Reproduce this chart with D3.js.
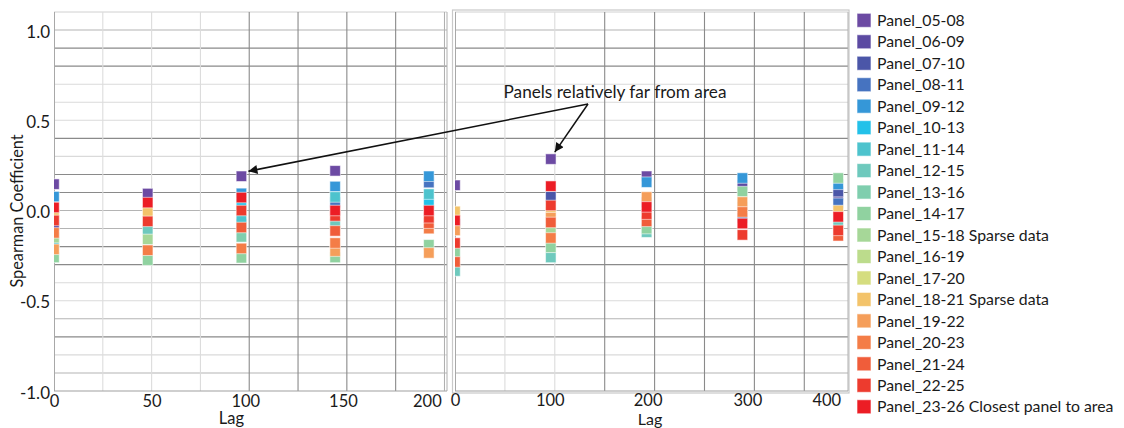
<!DOCTYPE html>
<html><head><meta charset="utf-8">
<script src="https://cdn.jsdelivr.net/npm/d3@7"></script>
<style>
html,body{margin:0;padding:0;background:#fff;}
svg text{font-family:Lato,"Noto Sans",sans-serif;fill:#1a1a1a;}
</style></head>
<body><svg id="c" width="1124" height="428"></svg>
<script>
// ---------------- DATA ----------------
const seriesNames = ["Panel_05-08","Panel_06-09","Panel_07-10","Panel_08-11","Panel_09-12","Panel_10-13",
  "Panel_11-14","Panel_12-15","Panel_13-16","Panel_14-17","Panel_15-18","Panel_16-19","Panel_17-20",
  "Panel_18-21","Panel_19-22","Panel_20-23","Panel_21-24","Panel_22-25","Panel_23-26"];
const seriesNotes = ["","","","","","","","","","","Sparse data","","","Sparse data","","","","","Closest panel to area"];
const seriesColors = ["#6c4aa3","#5c4aa2","#4b56a8","#4673c0","#3597d8","#23c1e9","#4dc3cd","#6ec9bd",
  "#7fceae","#90d2a0","#a6d798","#bcdc8c","#d5dd7f","#f3c36a","#f59e5a","#f47d47","#f05d3a","#ed3b2e","#ec1d25"];

// left panel lags and right panel lags
const lagsLeft = [0, 48, 96, 144, 192];
const lagsRight = [0, 96, 192, 288, 384];

// Spearman coefficient per series (rows follow seriesNames), null = no point
const valuesLeft = [
  [0.146, 0.094, 0.19, 0.22, null],      // 05-08
  [-0.08, null, -0.075, null, null],     // 06-09
  [null, null, null, null, null],        // 07-10
  [null, null, null, 0.045, 0.155],      // 08-11
  [0.077, null, 0.095, 0.133, 0.19],     // 09-12
  [null, null, 0.035, null, 0.04],       // 10-13
  [-0.175, null, -0.05, 0.075, 0.091],   // 11-14
  [null, -0.105, null, -0.075, null],    // 12-15
  [null, null, -0.146, null, null],      // 13-16
  [-0.26, -0.275, -0.262, -0.26, -0.19], // 14-17
  [-0.15, -0.16, null, null, null],      // 15-18
  [null, null, null, null, null],        // 16-19
  [null, null, null, null, null],        // 17-20
  [-0.02, -0.005, null, null, null],     // 18-21
  [-0.215, null, null, -0.225, -0.235],  // 19-22
  [-0.124, -0.22, -0.21, -0.18, -0.1],   // 20-23
  [null, null, -0.094, -0.113, -0.07],   // 21-24
  [-0.055, -0.06, 0.0, -0.03, -0.04],    // 22-25
  [0.017, 0.044, 0.072, 0.0, 0.0]        // 23-26
];
const valuesRight = [
  [0.14, 0.285, 0.19, null, null],       // 05-08
  [null, null, 0.045, 0.14, 0.085],      // 06-09
  [null, 0.077, null, null, 0.105],      // 07-10
  [-0.075, null, null, -0.04, 0.04],     // 08-11
  [null, null, 0.157, 0.18, 0.145],      // 09-12
  [null, null, null, null, null],        // 10-13
  [null, null, null, null, null],        // 11-14
  [-0.335, -0.26, -0.12, 0.02, -0.07],   // 12-15
  [null, null, null, null, null],        // 13-16
  [-0.23, -0.204, -0.1, 0.105, 0.18],    // 14-17
  [null, -0.1, null, null, null],        // 15-18
  [null, null, null, null, null],        // 16-19
  [null, null, null, null, null],        // 17-20
  [-0.005, -0.01, null, null, 0.0],      // 18-21
  [-0.11, -0.04, 0.075, 0.047, null],    // 19-22
  [null, -0.152, null, -0.008, null],    // 20-23
  [-0.285, -0.066, -0.06, null, -0.14],  // 21-24
  [-0.18, 0.028, -0.02, -0.135, -0.11],  // 22-25
  [-0.055, 0.135, 0.02, -0.072, -0.035]  // 23-26
];

const yTickValues = [1.0, 0.5, 0.0, -0.5, -1.0];
const yTickLabels = ["1.0", "0.5", "0.0", "-0.5", "-1.0"];
const leftTickPos = [0, 50, 98, 148, 191];
const leftTickLabels = ["0", "50", "100", "150", "200"];
const rightTickPos = [0, 95, 193, 293, 372];
const rightTickLabels = ["0", "100", "200", "300", "400"];
const annotationText = "Panels relatively far from area";

// ---------------- CHART ----------------
const svg = d3.select("#c");
const y = d3.scaleLinear().domain([-1, 1.1]).range([391, 12]);
const xL = d3.scaleLinear().domain([0, 201.3]).range([54, 447]);
const xR = d3.scaleLinear().domain([0, 393.8]).range([455, 848]);

const darkY = [0.9, 0.8, 0.4, 0.2, 0.1, -0.2, -0.3, -0.7];
const medY = [1.0, 0.0, -0.1, -0.6, -0.9];
const gridY = d3.range(-9, 11).map(i => +(i / 10).toFixed(1));
function yCol(v){ if (darkY.includes(v)) return "#8a8a8a"; if (medY.includes(v)) return "#b4b4b4"; return "#dadada"; }

const defs = svg.append("defs");
function panel(id, x, xMin, xMax, vGrid, vDark, lags, values, frame) {
  const g = svg.append("g");
  defs.append("clipPath").attr("id", id).append("rect")
    .attr("x", xMin).attr("y", 12).attr("width", xMax - xMin).attr("height", 379);
  if (frame) {
    g.append("rect").attr("x", frame[0]).attr("y", 10).attr("width", frame[1] - frame[0]).attr("height", 383)
      .attr("fill", "none").attr("stroke", "#c9c9c9").attr("stroke-width", 1.2);
  }
  g.selectAll(".hg").data(gridY).join("line")
    .attr("x1", xMin).attr("x2", xMax).attr("y1", d => y(d)).attr("y2", d => y(d))
    .attr("stroke", d => yCol(d)).attr("stroke-width", 1.1);
  g.append("line").attr("x1", xMin).attr("x2", xMax).attr("y1", 12).attr("y2", 12).attr("stroke", "#d0d0d0");
  g.selectAll(".vg").data(vGrid).join("line")
    .attr("x1", d => x(d)).attr("x2", d => x(d)).attr("y1", 12).attr("y2", 391)
    .attr("stroke", d => vDark.includes(d) ? "#8a8a8a" : "#dcdcdc").attr("stroke-width", 1.1);
  g.append("line").attr("x1", xMin + 0.5).attr("x2", xMin + 0.5).attr("y1", 12).attr("y2", 391).attr("stroke", "#a8a8a8");
  g.append("line").attr("x1", xMax).attr("x2", xMax).attr("y1", 12).attr("y2", 391).attr("stroke", "#b0b0b0");
  g.append("line").attr("x1", xMin).attr("x2", xMax).attr("y1", 391).attr("y2", 391).attr("stroke", "#a0a0a0").attr("stroke-width", 1.2);
  const pts = [];
  values.forEach((row, si) => row.forEach((v, li) => { if (v !== null) pts.push({s: si, lag: lags[li], v}); }));
  const s = 10.5;
  g.append("g").attr("clip-path", `url(#${id})`).selectAll("rect").data(pts).join("rect")
    .attr("x", d => x(d.lag) - s / 2).attr("y", d => y(d.v) - s / 2)
    .attr("width", s).attr("height", s)
    .attr("fill", d => seriesColors[d.s])
    .attr("stroke", "rgba(255,255,255,0.55)").attr("stroke-width", 1);
  return g;
}

panel("clipL", xL, 54, 447, [25, 50, 75, 100, 125, 150, 175, 200], [100, 125, 150, 175], lagsLeft, valuesLeft, null);
panel("clipR", xR, 455, 848, [50, 100, 150, 200, 250, 300, 350], [150, 200, 250, 300, 350], lagsRight, valuesRight, [452.5, 849]);
svg.append("line").attr("x1", 444.5).attr("x2", 444.5).attr("y1", 12).attr("y2", 391).attr("stroke", "#b0b0b0");

// y axis
const yAxis = d3.axisLeft(y).tickValues(yTickValues).tickSize(0).tickPadding(4)
  .tickFormat((d, i) => yTickLabels[i]);
const ya = svg.append("g").attr("transform", "translate(54,0)").call(yAxis);
ya.select(".domain").remove();
ya.selectAll("text").attr("font-size", 17).attr("dy", "0.42em").style("font-family", "Lato");

// x axes
function xAxis(x, pos, labels, pad) {
  const a = d3.axisBottom(x).tickValues(pos).tickSize(0).tickPadding(pad).tickFormat((d, i) => labels[i]);
  const g = svg.append("g").attr("transform", "translate(0,391)").call(a);
  g.select(".domain").remove();
  g.selectAll("text").attr("font-size", 16.5).style("font-family", "Lato");
}
xAxis(xL, leftTickPos, leftTickLabels, 4);
xAxis(xR, rightTickPos, rightTickLabels, 3);

svg.append("text").attr("x", 231.5).attr("y", 423.5).attr("text-anchor", "middle").attr("font-size", 16.5).text("Lag");
svg.append("text").attr("x", 650).attr("y", 424.5).attr("text-anchor", "middle").attr("font-size", 16).text("Lag");
svg.append("text").attr("transform", "translate(23,211) rotate(-90)").attr("text-anchor", "middle")
  .attr("font-size", 16.3).text("Spearman Coefficient");

// annotation
defs.append("marker").attr("id", "ah").attr("viewBox", "0 0 10 10").attr("refX", 10).attr("refY", 5)
  .attr("markerWidth", 12).attr("markerHeight", 9).attr("markerUnits", "userSpaceOnUse").attr("orient", "auto")
  .append("path").attr("d", "M0,0 L10,5 L0,10 Z").attr("fill", "#111");
const origin = [588, 104];
const tip1 = [xL(96) + 7, y(0.19) - 5];
const tip2 = [xR(96) + 4, y(0.285) - 7];
[tip1, tip2].forEach(t => {
  svg.append("line").attr("x1", origin[0]).attr("y1", origin[1]).attr("x2", t[0]).attr("y2", t[1])
    .attr("stroke", "#111").attr("stroke-width", 1.5).attr("marker-end", "url(#ah)");
});
svg.append("text").attr("x", 615).attr("y", 98).attr("text-anchor", "middle").attr("font-size", 17.2).text(annotationText);

// legend
const lg = svg.append("g");
const items = lg.selectAll("g").data(seriesNames).join("g")
  .attr("transform", (d, i) => `translate(857,${20.3 + i * 21.47})`);
items.append("rect").attr("x", 0).attr("y", -7).attr("width", 14).attr("height", 14)
  .attr("fill", (d, i) => seriesColors[i]).attr("stroke", "rgba(255,255,255,0.6)").attr("stroke-width", 1);
items.append("text").attr("x", 20).attr("y", 5.7).attr("font-size", 15.8)
  .text((d, i) => seriesNotes[i] ? d + " " + seriesNotes[i] : d);
</script></body></html>
